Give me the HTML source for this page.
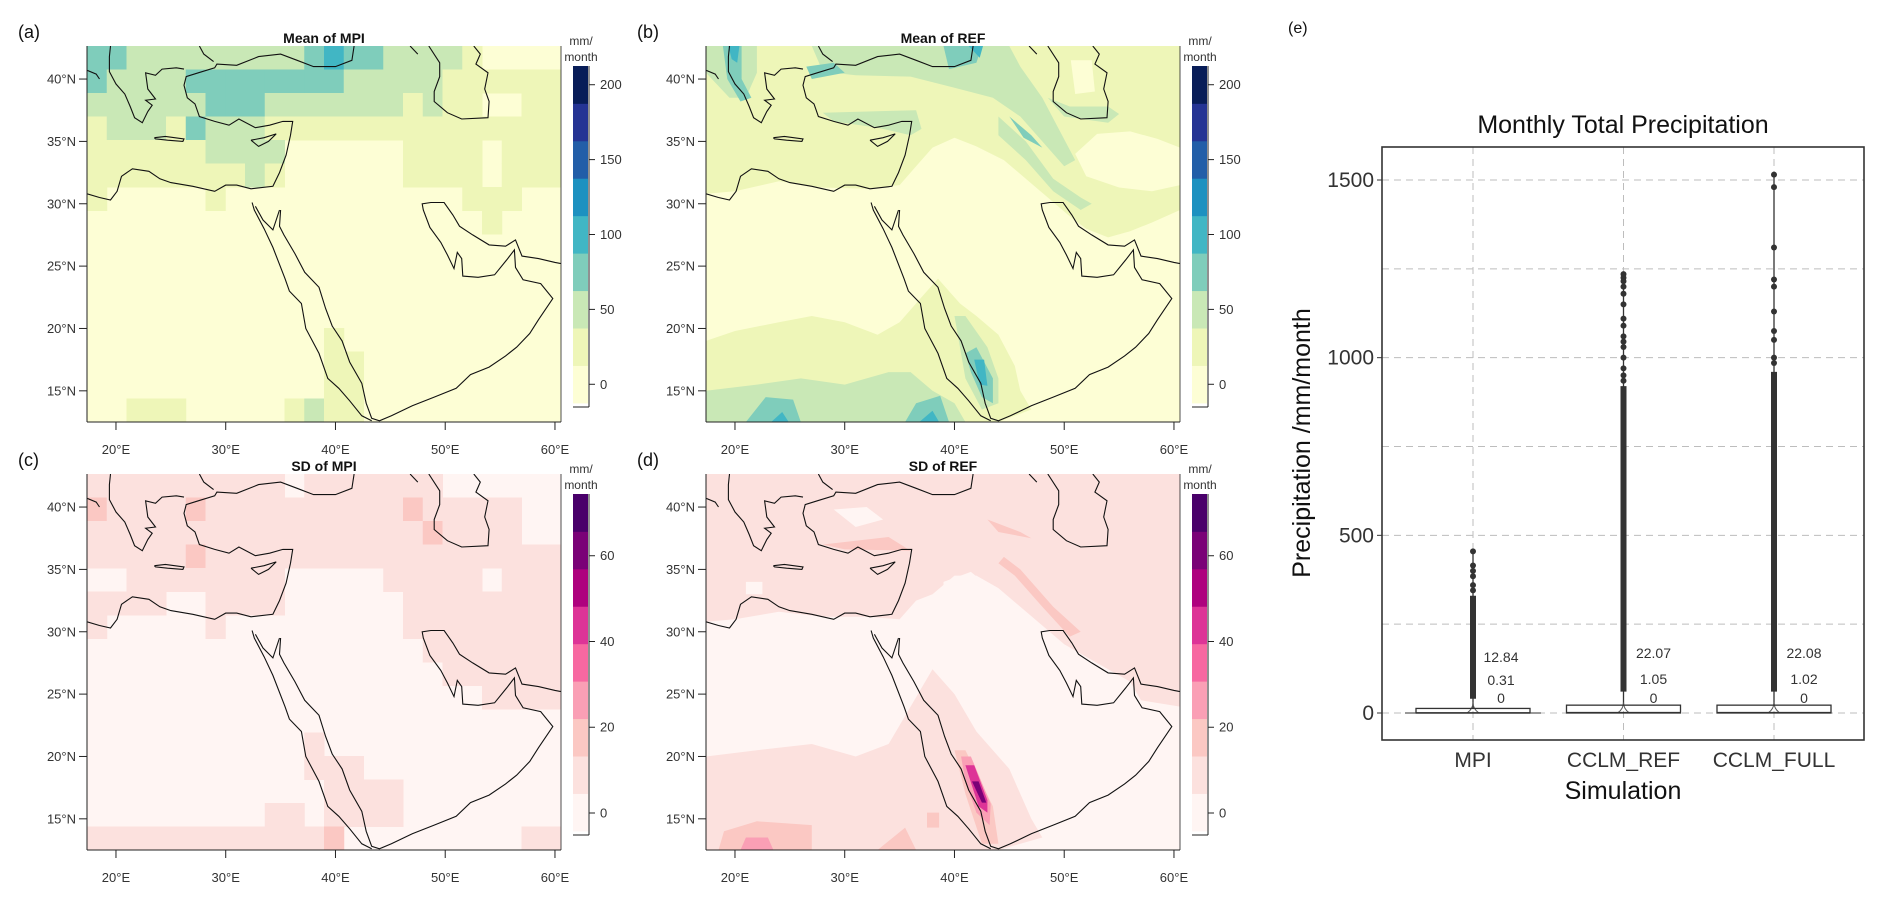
<!DOCTYPE html>
<html><head><meta charset="utf-8"><title>Precipitation maps and boxplot</title>
<style>
html,body{margin:0;padding:0;background:#fff;}
svg{display:block;font-family:"Liberation Sans",Arial,sans-serif;}
</style></head>
<body>
<svg id="fig" width="1892" height="904" viewBox="0 0 1892 904" xmlns="http://www.w3.org/2000/svg"></svg>
<script>
// ---------- box plot data (panel e) ----------
const categories = ["MPI","CCLM_REF","CCLM_FULL"];
const q1Values = [0,0,0];
const medianValues = [0.31,1.05,1.02];
const q3Values = [12.84,22.07,22.08];
const denseOutlierLow = [40,60,60];
const denseOutlierHigh = [330,920,960];
const maxValues = [455,1235,1515];
const sparseOutliersMPI = [455,415,400,385,360,345];
const sparseOutliersREF = [1235,1225,1215,1200,1180,1150,1110,1090,1060,1045,1030,1000,970,950,935];
const sparseOutliersFULL = [1515,1480,1310,1220,1200,1130,1075,1050,1000,985];
const yTicks = [0,500,1000,1500];
const yGrid = [0,250,500,750,1000,1250,1500];
const annoLabels = [["12.84","0.31","0"],["22.07","1.05","0"],["22.08","1.02","0"]];

// ---------- map data ----------
const meanLevels = [0,25,50,75,100,125,150,175,200];
const sdTicks = [0,20,40,60];
const meanColors = ['#fdfed5','#eef6b8','#c9e8b6','#7fcdbb','#41b6c4','#1d91c0','#225ea8','#253494','#081d58'];
const sdColors = ['#fff5f3','#fce1de','#fbc8c3','#fa9fb5','#f768a1','#dd3497','#ae017e','#7a0177','#49006a'];
// MPI mean level grid (16 rows top->bottom, 24 cols)
const mpiMeanGrid = [
"332222222223433222210000",
"322223333333322222111111",
"222222333222222212110011",
"122213222111111111111111",
"111111222200000011110111",
"111111112100000011110111",
"100000100000000000011100",
"000000000000000000001000",
"000000000000000000000000",
"000000000000000000000000",
"000000000000000000000000",
"000000000000000000000000",
"000000000000100000000000",
"000000000000110000000000",
"000000000000110000000000",
"001110000012110000000000"];
// MPI SD level grid
const mpiSdGrid = [
"111111111101111111000000",
"211112111111111121111100",
"111111111111111112111100",
"111112111111111111111111",
"001111111100000111110111",
"111100111100000011111111",
"100000100000000011111111",
"000000000000000001111111",
"000000000000000000111111",
"000000000000000000001111",
"000000000000000000000000",
"000000000001000000000000",
"000000000001110000000000",
"000000000000111100000000",
"000000000110111100000000",
"111111111111200000000011"];
// REF mean polygons [level, [[lon,lat],...]]
const refMeanPolys = [
[1,[[17.36,42.65],[60.55,42.65],[60.55,29.5],[58,28.5],[56,27.8],[54,27.3],[52,28],[50.5,29],[48.5,30.5],[46.5,32],[44.5,33.5],[42,34.6],[40,35.3],[38,34.5],[36.5,33],[35,31.5],[32,31.2],[28,31.3],[24,31.8],[20,31],[17.36,30.8]]],
[0,[[51,34],[53,35.6],[56,35.8],[58.5,35.2],[60.55,34.5],[60.55,31.5],[58,31],[55,31.3],[52,32.2]]],
[0,[[50.6,41.5],[52.5,41.5],[52.8,39],[51,38.8]]],
[1,[[17.36,12.5],[17.36,19],[20,19.8],[24,20.5],[27,21],[30,20.5],[33,19.5],[35,20.5],[37,22.5],[38.5,24],[39.5,23],[40.5,22],[42,21],[44,19.5],[45.5,17],[46,15],[47,13.5],[44,12.5]]],
[2,[[27,42.65],[45,42.65],[46,41],[48,38.5],[49.5,36],[51,33.5],[50,33],[48,35],[46,37],[43.5,38.5],[40,39.3],[36,40.2],[31,40.3],[28,40.6]]],
[2,[[28,37.3],[36.5,37.5],[37,36],[36,35.5],[33,36.1],[29,36.6]]],
[2,[[44,37],[46.5,35],[49,32],[51.5,30.5],[52.5,30],[51.5,29.5],[49,31],[46.5,33.5],[44,35.5]]],
[2,[[48.5,38.5],[50,37],[54,36.5],[55,37.2],[54,37.8],[50.5,37.8]]],
[2,[[17.36,42.65],[22,42.65],[22,40.5],[21,38.5],[19.5,38.5],[17.36,40.5]]],
[2,[[17.36,12.5],[17.36,15],[22,15.5],[26,16],[30,15.5],[34,16.5],[36,16.5],[38,15],[40,14],[41,12.5]]],
[2,[[40,21],[41,21],[43,18.5],[44,16],[44,14],[42.5,13.5],[41,16]]],
[3,[[39,42.65],[42.5,42.65],[42,41.3],[39.5,40.8]]],
[3,[[18.9,42.65],[20.6,42.65],[20.6,40],[21.5,38.5],[20.5,38.2],[19.3,40]]],
[3,[[26.5,41],[29,41.3],[30,40.5],[27,40]]],
[3,[[45,37],[47,35.5],[48,34.5],[46.3,35.3]]],
[3,[[41,18],[42,18.5],[43.5,16],[43.5,14],[42.5,14.5],[41.5,16.5]]],
[3,[[21,12.5],[26,12.5],[25.3,14.3],[22.8,14.5]]],
[3,[[35.5,12.5],[39.5,12.5],[38.7,14.6],[36.5,14]]],
[4,[[19.4,42.65],[20.4,42.65],[20.2,41.3],[19.7,41.6]]],
[4,[[41.3,42.65],[42.6,42.65],[42.3,41.7]]],
[4,[[41.8,17.5],[42.7,17.5],[43,15.4],[42.3,15.5]]],
[4,[[36.8,12.5],[38.6,12.5],[38,13.4]]],
[4,[[23.3,12.5],[24.9,12.5],[24.3,13.3]]]
];
// REF SD polygons
const refSdPolys = [
[1,[[17.36,42.65],[60.55,42.65],[60.55,24],[57,24.5],[56,26],[54,27],[50,29],[48,30.5],[46,32],[44,33.5],[42,34.5],[40,34.5],[38,33],[36.5,32.5],[35,31],[32,31.2],[28,31.2],[24,31.6],[20,31],[17.36,30.8]]],
[0,[[29,39.8],[32,40],[33.5,39],[31,38.4]]],
[0,[[39,34],[41.5,34.8],[44,33],[42,31.5],[39,32.5]]],
[0,[[21,34],[22.5,34],[22.5,33],[21,33]]],
[1,[[17.36,12.5],[17.36,20],[22,20.5],[27,21],[31,20],[34,21],[36,24],[38,27],[40,25],[42,22],[45,19],[47,15],[48,13.5],[44,12.5]]],
[2,[[44.5,36],[46,35],[49,32],[51.5,30],[50.5,29.6],[48,32],[45.5,34.5],[44,35.5]]],
[2,[[43,39],[46,38],[47,37.5],[44,38]]],
[2,[[28,37],[34,37.6],[36,36.5],[30,36.6]]],
[2,[[18.5,12.5],[27,12.5],[27,14.5],[22,14.8],[19,14]]],
[2,[[33,12.5],[36.5,12.5],[35.5,14.3]]],
[2,[[37.5,15.5],[38.6,15.5],[38.6,14.3],[37.5,14.3]]],
[2,[[40,20.5],[41,20.5],[43.5,16],[44,13],[42.5,13],[41,17]]],
[3,[[40.6,20],[41.5,20],[43.3,16.2],[43.2,14.5],[42,15.5],[41,18]]],
[3,[[20.5,12.5],[23.5,12.5],[23,13.5],[21,13.5]]],
[5,[[41,19.3],[41.8,19.3],[43,16.5],[43,15.5],[42.2,16]]],
[7,[[41.6,18],[42.2,18],[42.9,16.3],[42.5,16.3]]]
];
// coastlines [lon,lat]
const coastLines = [
[[17.36,30.8],[18.5,30.5],[19.5,30.3],[20.1,31.0],[20.5,32.2],[21.5,32.8],[23,32.6],[24,32.0],[25,31.7],[27,31.4],[29,31.0],[30,31.5],[31,31.5],[32.3,31.2],[34.3,31.4],[34.9,32.5],[35.5,33.9],[35.9,35.5],[36.1,36.6],[35.2,36.6],[34,36.3],[32.7,36.1],[31.2,36.8],[30.3,36.3],[29,36.6],[27.6,37.0],[27.2,38.0],[26.5,38.5],[26.2,39.5],[26.4,40.2],[27.5,40.5],[29,40.9],[29.2,41.2],[31,41.1],[33,41.8],[35,42.0],[36.5,41.5],[38,41.0],[40,41.0],[41.5,41.5],[41.7,42.65]],
[[27.6,42.65],[28,42.0],[28.9,41.4]],
[[19.5,42.65],[19.4,41.8],[19.4,40.6],[20.0,39.6],[20.8,38.8],[21.3,37.8],[21.7,36.9],[22.4,36.5],[22.9,37.4],[23.3,37.9],[22.7,38.3],[23.6,38.4],[22.9,39.2],[22.7,40.5],[23.6,40.3],[24.2,40.8],[25.5,40.9],[26.2,40.8]],
[[17.36,40.7],[18.2,40.4],[18.5,40.0]],
[[23.5,35.3],[24.5,35.4],[26.2,35.2],[26.1,35.0],[24.7,35.1],[23.6,35.2],[23.5,35.3]],
[[32.3,35.1],[33.5,35.3],[34.6,35.6],[33.9,35.0],[33.0,34.6],[32.3,35.1]],
[[32.4,30.1],[32.6,29.5],[33.5,28.0],[34.3,26.5],[35.4,24.0],[35.8,23.0],[36.9,22.0],[37.3,20.0],[38.5,18.0],[39.3,16.0],[40.3,15.2],[41.3,14.2],[42.4,13.0],[43.3,12.6]],
[[32.7,29.8],[33.4,28.7],[34.3,27.9],[34.6,28.7],[34.9,29.5]],
[[35.0,29.5],[34.9,28.2],[35.3,27.5],[36.3,26.0],[37.2,24.5],[38.5,23.3],[39.1,21.6],[39.7,20.2],[40.6,19.0],[41.3,17.3],[42.4,15.6],[42.8,14.0],[43.3,12.8],[44.0,12.6],[45.1,13.0],[47,13.8],[49,14.5],[51,15.2],[52.3,16.3],[54,16.9],[55.5,17.8],[56.5,18.5],[57.7,19.6],[58.5,20.7],[59.8,22.4],[58.7,23.6],[57.1,23.9],[56.4,24.9],[56.3,26.3],[55.6,25.5],[54.5,24.3],[53,24.1],[51.6,24.2],[51.5,25.6],[51.1,26.1],[50.8,24.8],[50.2,25.9],[49.6,26.9],[48.6,28.1],[48,29.5],[47.9,30.0],[48.7,30.1],[49.9,30.1],[50.7,29.1],[51.3,28.2],[52.5,27.5],[54,26.7],[55.5,26.6],[56.4,27.1],[57,25.8],[58.5,25.6],[60,25.3],[60.55,25.2]],
[[48.5,42.65],[49.5,41.3],[49.5,40.2],[49,39],[49,38.2],[50.2,37.3],[51.5,36.8],[53.9,36.9],[54,38.2],[53.6,39.2],[53.9,40.5],[52.8,41.2],[53.2,42.0],[52.6,42.65]],
[[46.8,42.65],[47.5,42.0]]
];

const NS = "http://www.w3.org/2000/svg";
const svg = document.getElementById('fig');
function mk(tag, attrs, parent){const e=document.createElementNS(NS,tag);for(const k in attrs)e.setAttribute(k,attrs[k]);(parent||svg).appendChild(e);return e;}
function txt(s, attrs, parent){const e=mk('text',attrs,parent);e.textContent=s;return e;}

// map geometry
const LON0=17.36, LON1=60.55, LAT0=12.5, LAT1=42.65;
function makeMap(id, left, top, title, label, colors, kind){
  const W=474, H=376;
  const g = mk('g',{});
  
  
  const xS = lon => left + (lon-LON0)/(LON1-LON0)*W;
  const yS = lat => top + (LAT1-lat)/(LAT1-LAT0)*H;
  const clip = mk('clipPath',{id:'clip-'+id},g);
  mk('rect',{x:left,y:top,width:W,height:H},clip);
  const field = mk('g',{'clip-path':'url(#clip-'+id+')'},g);
  
  
  mk('rect',{x:left,y:top,width:W,height:H,fill:colors[0]},field);
  if(kind.grid){
    const rows=kind.grid.length, cols=kind.grid[0].length;
    const cw=W/cols, ch=H/rows;
    kind.grid.forEach((row,r)=>{ for(let c=0;c<cols;c++){ const lv=+row[c]; if(lv===0) continue;
      const cell=mk('rect',{x:(left+c*cw).toFixed(2),y:(top+r*ch).toFixed(2),width:(cw+0.5).toFixed(2),height:(ch+0.5).toFixed(2),fill:colors[lv]},field);
      
      
    }});
  }
  if(kind.polys){
    kind.polys.forEach(p=>{
      const pts=p[1].map(q=>xS(q[0]).toFixed(1)+','+yS(q[1]).toFixed(1)).join(' ');
      const poly=mk('polygon',{points:pts,fill:colors[p[0]]},field);
      
      
    });
  }
  coastLines.forEach(line=>{
    const pts=line.map(q=>xS(q[0]).toFixed(1)+','+yS(q[1]).toFixed(1)).join(' ');
    const pl=mk('polyline',{points:pts,fill:'none',stroke:'#111',"stroke-width":1.1},field);
    
    
  });
  // axes
  mk('line',{x1:left,y1:top,x2:left,y2:top+H,stroke:'#222','stroke-width':1},g);
  mk('line',{x1:left,y1:top+H,x2:left+W,y2:top+H,stroke:'#222','stroke-width':1},g);
  mk('line',{x1:left+W,y1:top,x2:left+W,y2:top+H,stroke:'#222','stroke-width':0.8},g);
  [15,20,25,30,35,40].forEach(lat=>{
    const y=yS(lat);
    mk('line',{x1:left-8,y1:y,x2:left,y2:y,stroke:'#222'},g);
    const t=txt(lat+'°N',{x:left-11,y:y+4.5,'text-anchor':'end','font-size':13,fill:'#333'},g);
    
    
  });
  [20,30,40,50,60].forEach(lon=>{
    const x=xS(lon);
    mk('line',{x1:x,y1:top+H,x2:x,y2:top+H+8,stroke:'#222'},g);
    const t=txt(lon+'°E',{x:x,y:top+H+32,'text-anchor':'middle','font-size':13,fill:'#333'},g);
    
    
  });
  const tt=txt(title,{x:left+W/2,y:top-3,'text-anchor':'middle','font-size':14,'font-weight':'bold',fill:'#111'},g);
  
  
  const pl=txt(label,{x:left-69,y:top-8,'font-size':18,fill:'#111'},g);
  
  
  // colorbar
  const cbx=left+W+12, cbw=15, cbTop=top+20, cbBot=top+357;
  const cb=mk('g',{},g);
  
  
  const n=colors.length, bh=(cbBot-cbTop)/n;
  for(let i=0;i<n;i++){
    mk('rect',{x:cbx,y:(cbBot-(i+1)*bh).toFixed(2),width:cbw,height:(bh+0.4).toFixed(2),fill:colors[i]},cb);
  }
  mk('line',{x1:cbx+cbw+1,y1:cbTop,x2:cbx+cbw+1,y2:cbBot+4,stroke:'#222'},cb);
  mk('line',{x1:cbx,y1:cbBot+4,x2:cbx+cbw+1,y2:cbBot+4,stroke:'#222'},cb);
  kind.ticks.forEach(v=>{
    const y=cbBot-(v-kind.vmin)/(kind.vmax-kind.vmin)*(cbBot-cbTop);
    mk('line',{x1:cbx+cbw+1,y1:y,x2:cbx+cbw+7,y2:y,stroke:'#222'},cb);
    txt(String(v),{x:cbx+cbw+12,y:y+4.5,'font-size':13,fill:'#333'},cb);
  });
  txt('mm/',{x:cbx+8,y:top-1,'text-anchor':'middle','font-size':12,fill:'#333'},cb);
  txt('month',{x:cbx+8,y:top+15,'text-anchor':'middle','font-size':12,fill:'#333'},cb);
}
const meanKind = {vmin:-12.5, vmax:212.5, ticks:[0,50,100,150,200]};
const sdKind = {vmin:-4.2, vmax:74.4, ticks:sdTicks};
makeMap('map-mean-mpi',87,46,'Mean of MPI','(a)',meanColors,Object.assign({grid:mpiMeanGrid},meanKind));
makeMap('map-mean-ref',706,46,'Mean of REF','(b)',meanColors,Object.assign({polys:refMeanPolys},meanKind));
makeMap('map-sd-mpi',87,474,'SD of MPI','(c)',sdColors,Object.assign({grid:mpiSdGrid},sdKind));
makeMap('map-sd-ref',706,474,'SD of REF','(d)',sdColors,Object.assign({polys:refSdPolys},sdKind));

// ---------- boxplot (panel e) ----------
const PL=1382, PR=1864, PT=147, PB=740;
const yScale = v => 713 - v*(713-180)/1500;
const catX = [1473,1623,1774];
const xScale = i => catX[0] + i*(catX[2]-catX[0])/(categories.length-1);
const bp = mk('g',{});


mk('rect',{x:PL,y:PT,width:PR-PL,height:PB-PT,fill:'#fff'},bp);
yGrid.forEach(v=>{
  const gl=mk('line',{x1:PL,x2:PR,y1:yScale(v),y2:yScale(v),stroke:'#bdbdbd','stroke-width':1,'stroke-dasharray':'7,5'},bp);
  
  
});
categories.forEach((c,i)=>{
  const gl=mk('line',{x1:xScale(i),x2:xScale(i),y1:PT,y2:PB,stroke:'#bdbdbd','stroke-width':1,'stroke-dasharray':'7,5'},bp);
  
  
});
const sparse=[sparseOutliersMPI,sparseOutliersREF,sparseOutliersFULL];
categories.forEach((c,i)=>{
  const x=xScale(i), hw=57;
  const g=mk('g',{},bp);
  
  
  mk('line',{x1:x,x2:x,y1:yScale(q3Values[i]),y2:yScale(maxValues[i]),stroke:'#333','stroke-width':1.3},g);
  mk('line',{x1:x,x2:x,y1:yScale(denseOutlierLow[i]),y2:yScale(denseOutlierHigh[i]),stroke:'#333','stroke-width':6},g);
  sparse[i].forEach(v=>{
    const d=mk('circle',{cx:x,cy:yScale(v),r:3,fill:'#333'},g);
    
    
  });
  mk('path',{d:`M${x-6},${yScale(0)} Q${x},${yScale(0)-4} ${x},${yScale(30)} Q${x},${yScale(0)-4} ${x+6},${yScale(0)}`,fill:'none',stroke:'#555','stroke-width':1},g);
  const by=yScale(q3Values[i]), bb=yScale(q1Values[i]);
  mk('rect',{x:x-hw,y:by,width:2*hw,height:Math.max(bb-by,1),fill:'none',stroke:'#333','stroke-width':1.3},g);
  mk('line',{x1:x-hw,x2:x+hw,y1:yScale(medianValues[i]),y2:yScale(medianValues[i]),stroke:'#333','stroke-width':1.5},g);
  if(i===0) mk('line',{x1:x-68,x2:x+68,y1:yScale(0),y2:yScale(0),stroke:'#333','stroke-width':1.1},g);
  const ys=[657,680,698];
  if(i>0){ys[0]=653;ys[1]=679;}
  annoLabels[i].forEach((s,k)=>{
    const t=txt(s,{x:x+(i===0?28:30),y:ys[k]+5,'text-anchor':'middle','font-size':14,fill:'#333'},g);
    
    
  });
  const xl=txt(c,{x:x,y:767,'text-anchor':'middle','font-size':21,fill:'#333'},bp);
  
  
});
mk('rect',{x:PL,y:PT,width:PR-PL,height:PB-PT,fill:'none',stroke:'#333','stroke-width':1.6},bp);
yTicks.forEach(v=>{
  mk('line',{x1:PL-5,x2:PL,y1:yScale(v),y2:yScale(v),stroke:'#333'},bp);
  const t=txt(String(v),{x:PL-8,y:yScale(v)+7,'text-anchor':'end','font-size':21,fill:'#333'},bp);
  
  
});
const title=txt('Monthly Total Precipitation',{x:1623,y:133,'text-anchor':'middle','font-size':25,fill:'#111'},bp);


const xt=txt('Simulation',{x:1623,y:799,'text-anchor':'middle','font-size':25,fill:'#111'},bp);


const yt=txt('Precipitation /mm/month',{x:0,y:0,'text-anchor':'middle','font-size':25,fill:'#111',transform:'translate(1310,443) rotate(-90)'},bp);


const el=txt('(e)',{x:1288,y:33,'font-size':16,fill:'#111'},bp);


</script>
</body></html>
